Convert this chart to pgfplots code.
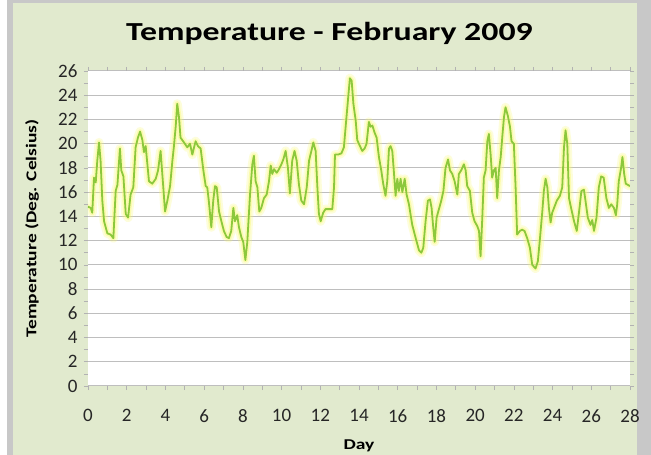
\documentclass[border=0pt]{standalone}
\usepackage{pgfplots}
\pgfplotsset{compat=1.18}
\usepackage{pgfplotstable}
\usepackage{fontspec}
\setmainfont{Carlito}
\newfontfamily\wide{Carlito}[FakeStretch=1.3]
\definecolor{bggreen}{RGB}{225,234,206}
\definecolor{framegray}{RGB}{200,200,200}
\definecolor{linegreen}{RGB}{140,200,60}
\definecolor{glow}{RGB}{250,250,110}
\definecolor{gridgray}{RGB}{190,190,190}

\pgfplotstableread{
day temp
0 14.8
0.14 14.7
0.22 14.3
0.31 17.2
0.40 16.8
0.48 18.6
0.57 20.1
0.65 18.6
0.74 15.3
0.83 13.6
1.00 12.6
1.17 12.5
1.31 12.2
1.43 16.1
1.52 16.6
1.65 19.6
1.72 17.8
1.83 17.3
1.95 14.2
2.07 13.9
2.20 15.8
2.34 16.4
2.46 19.7
2.58 20.5
2.69 21.0
2.81 20.3
2.89 19.3
2.98 19.8
3.15 16.9
3.32 16.7
3.50 17.1
3.62 17.8
3.75 19.4
3.89 16.4
3.98 14.4
4.10 15.3
4.24 16.5
4.36 18.6
4.44 19.8
4.53 21.4
4.61 23.3
4.70 22.2
4.78 20.5
4.96 20.1
5.13 19.7
5.27 20.0
5.39 19.1
5.48 19.7
5.56 20.2
5.68 19.8
5.82 19.6
5.96 17.8
6.08 16.5
6.16 16.4
6.24 15.3
6.37 13.1
6.47 15.3
6.56 16.5
6.65 16.4
6.77 14.4
6.89 13.6
7.02 12.8
7.16 12.3
7.28 12.2
7.40 12.8
7.51 14.7
7.59 13.6
7.71 14.1
7.80 13.1
7.92 12.3
8.02 11.9
8.13 10.4
8.23 11.9
8.37 15.8
8.49 18.3
8.57 19.0
8.66 16.9
8.75 16.4
8.85 14.4
8.95 14.7
9.09 15.5
9.23 15.8
9.35 16.9
9.44 18.2
9.52 17.5
9.61 17.9
9.75 17.6
9.87 17.9
9.99 18.3
10.09 18.7
10.21 19.4
10.33 18.0
10.43 15.9
10.55 18.6
10.67 19.4
10.78 18.6
10.90 16.6
11.02 15.3
11.16 15.0
11.30 16.4
11.42 18.6
11.54 19.4
11.64 20.1
11.76 19.4
11.85 16.4
11.93 14.2
12.02 13.6
12.15 14.3
12.27 14.6
12.44 14.6
12.62 14.6
12.71 16.4
12.76 19.1
12.91 19.1
13.09 19.2
13.22 19.7
13.31 21.4
13.43 23.6
13.53 25.4
13.62 25.2
13.71 23.3
13.83 21.9
13.91 20.3
14.05 19.8
14.17 19.4
14.29 19.6
14.39 20.0
14.51 21.8
14.60 21.4
14.69 21.5
14.81 20.9
14.91 20.5
15.03 18.9
15.15 17.8
15.25 16.7
15.37 15.7
15.46 16.9
15.55 19.6
15.63 19.8
15.72 19.4
15.81 17.5
15.89 15.7
15.98 17.1
16.06 16.1
16.15 17.1
16.24 16.0
16.36 17.1
16.46 15.8
16.58 15.0
16.75 13.3
16.93 12.2
17.10 11.2
17.22 11.0
17.32 11.4
17.44 13.6
17.56 15.3
17.67 15.4
17.75 14.7
17.84 13.0
17.91 11.9
18.01 13.9
18.13 14.6
18.25 15.3
18.36 16.1
18.47 18.0
18.60 18.7
18.70 17.8
18.82 17.5
18.94 16.9
19.08 15.8
19.16 17.5
19.28 17.8
19.42 18.3
19.51 17.8
19.59 16.5
19.73 16.1
19.85 14.3
19.97 13.6
20.11 13.2
20.20 12.8
20.28 10.7
20.37 13.9
20.45 17.2
20.54 17.8
20.63 20.2
20.71 20.8
20.80 19.1
20.88 17.2
20.97 17.8
21.06 18.0
21.14 15.5
21.23 17.8
21.32 18.9
21.40 20.5
21.49 22.2
21.57 23.0
21.69 22.3
21.80 21.4
21.88 20.2
22.00 20.0
22.09 16.4
22.17 12.5
22.31 12.8
22.43 12.9
22.55 12.8
22.69 12.2
22.83 11.4
22.95 10.0
23.12 9.7
23.24 10.3
23.35 12.2
23.47 14.4
23.55 16.1
23.64 17.1
23.73 16.4
23.81 14.7
23.90 13.5
23.98 14.3
24.10 14.8
24.22 15.3
24.38 15.7
24.50 16.4
24.59 19.7
24.67 21.1
24.76 20.0
24.85 15.5
24.97 14.6
25.11 13.6
25.25 12.8
25.37 14.4
25.49 16.1
25.62 16.2
25.70 15.3
25.82 13.9
25.96 13.3
26.05 13.7
26.14 12.8
26.27 13.9
26.39 16.4
26.51 17.3
26.64 17.2
26.78 15.5
26.91 14.7
27.03 15.0
27.17 14.7
27.27 14.1
27.34 15.0
27.42 16.9
27.54 18.0
27.61 18.9
27.70 17.5
27.78 16.7
28.00 16.5
}\tempdata

\begin{document}
\begin{tikzpicture}[x=1pt,y=1pt]
\fill[white] (-88,-69) rectangle (563,386);
\fill[framegray] (-81,-69) rectangle (563,386);
\fill[bggreen] (-75,-69) rectangle (549,383);
\begin{axis}[
  scale only axis, width=542pt, height=315pt,
  xmin=0, xmax=28, ymin=0, ymax=26,
  xtick={0,2,...,28}, ytick={0,2,...,26},
  minor x tick num=1, minor y tick num=1,
  axis background/.style={fill=white},
  axis line style={draw=none},
  ymajorgrids, major grid style={gridgray, line width=1pt},
  tick align=outside, major tick length=4pt, minor tick length=4pt,
  tick style={gray!60, line width=0.6pt},
  ticklabel style={font=\fontsize{19}{22}\selectfont, text=black!85},
  /pgf/number format/assume math mode=true,
  xticklabel style={yshift=-16pt},
  yticklabel style={xshift=-3pt},
  title={\wide\bfseries Temperature - February 2009},
  title style={font=\fontsize{26}{31}\selectfont, at={(axis description cs:0.4456,1)}, anchor=base, yshift=24pt},
  xlabel={\wide\bfseries Day},
  xlabel style={font=\fontsize{15}{18}\selectfont, at={(axis description cs:0.5,-0.203)}, anchor=base},
  ylabel={\wide\bfseries Temperature (Deg. Celsius)},
  ylabel style={font=\fontsize{15}{18}\selectfont, at={(axis description cs:-0.1033,0.5)}, anchor=center, rotate=0},
]
\addplot[glow, opacity=0.25, line width=9pt, line join=round, line cap=round, no marks] table {\tempdata};
\addplot[glow, opacity=0.4, line width=5pt, line join=round, line cap=round, no marks] table {\tempdata};
\addplot[linegreen, line width=1.8pt, line join=round, no marks] table {\tempdata};
\end{axis}
\pgfresetboundingbox
\path (-88,-69) rectangle (563,386);
\end{tikzpicture}
\end{document}
